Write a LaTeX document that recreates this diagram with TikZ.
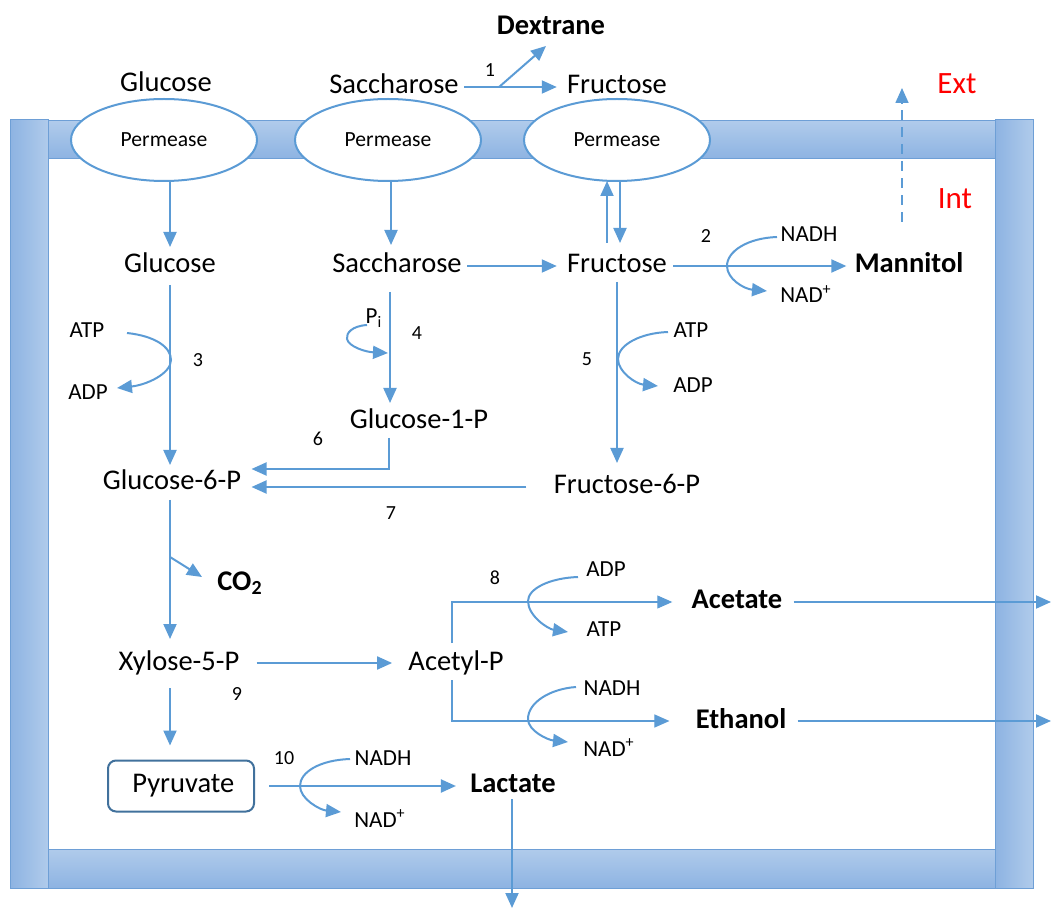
\documentclass[tikz,border=0pt]{standalone}
\usepackage{fontspec}
\setmainfont{Carlito}
\usetikzlibrary{arrows.meta,shapes.geometric,calc}
\definecolor{arr}{HTML}{5B9BD5}
\definecolor{barL}{HTML}{B0CBEB}
\definecolor{barD}{HTML}{8DB3E2}
\definecolor{barE}{HTML}{6E9FD6}
\definecolor{pyrE}{HTML}{41719C}
\begin{document}
\begin{tikzpicture}[x=0.5pt,y=-0.5pt,
 tip/.style={-{Triangle[length=7.5pt,width=6.5pt]}},
 flow/.style={draw=arr, line width=1pt, tip},
 thinflow/.style={draw=arr, line width=0.55pt, tip},
 met/.style={font=\fontsize{14.25pt}{16pt}\selectfont, inner sep=0pt, text height=10pt, text depth=3pt},
 prod/.style={font=\bfseries\fontsize{14.25pt}{16pt}\selectfont, inner sep=0pt, text height=10pt, text depth=3pt},
 small/.style={font=\fontsize{11.5pt}{13pt}\selectfont, inner sep=0pt, text height=8pt, text depth=2pt},
 num/.style={font=\fontsize{10pt}{12pt}\selectfont, inner sep=0pt},
 side/.style={font=\fontsize{15.5pt}{17pt}\selectfont, text=red, inner sep=0pt},
 perm/.style={ellipse, draw=arr, line width=1pt, fill=white, minimum width=93pt, minimum height=41pt, inner sep=0pt, font=\fontsize{10.8pt}{12pt}\selectfont},
 vbar/.style={left color=barD, right color=barL, draw=barE, line width=0.5pt},
 hbar/.style={top color=barL, bottom color=barD, draw=barE, line width=0.5pt},
 ]
\useasboundingbox (0,0) rectangle (1051,909);

% membrane
\shade[hbar] (48,121) rectangle (995,159);
\shade[hbar] (48,849) rectangle (995,888);
\shade[vbar] (10,120) rectangle (48,888);
\shade[vbar] (995,120) rectangle (1033,888);

% permeases
\node[perm] (p1) at (164,140) {Permease};
\node[perm] (p2) at (388,140) {Permease};
\node[perm] (p3) at (617,140) {Permease};

% outside
\node[prod] (dex) at (551,28) {Dextrane};
\node[met] (glcE) at (166,85) {Glucose};
\node[met] (sacE) at (394,87) {Saccharose};
\node[met] (fruE) at (617,87) {Fructose};
\node[side] (ext) at (957,84) {Ext};
\node[side] (int) at (955,199) {Int};

% inside metabolites
\node[met] (glc) at (170,266) {Glucose};
\node[met] (sac) at (397,266) {Saccharose};
\node[met] (fru) at (617,266) {Fructose};
\node[prod] (man) at (909,266) {Mannitol};
\node[met] (g1p) at (419,422) {Glucose-1-P};
\node[met] (g6p) at (172,483) {Glucose-6-P};
\node[met] (f6p) at (627,487) {Fructose-6-P};
\node[prod] (co2) at (240,583) {CO\textsubscript{2}};
\node[met] (xyl) at (179,663) {Xylose-5-P};
\node[met] (acp) at (456,663) {Acetyl-P};
\node[draw=pyrE, line width=1pt, rounded corners=4pt, minimum width=73pt, minimum height=25.5pt, inner sep=0pt,
      font=\fontsize{14.25pt}{16pt}\selectfont] (pyr) at (181,786) {\,Pyruvate};
\node[prod] (lac) at (513,785) {Lactate};
\node[prod] (ace) at (737,602) {Acetate};
\node[prod] (eth) at (741,721) {Ethanol};

% cofactors
\node[small] (atp3) at (87,332) {ATP};
\node[small] (adp3) at (88,394) {ADP};
\node[small] (pi) at (374,318) {P\textsubscript{i}};
\node[small] (nadh2) at (809,236) {NADH};
\node[small] (nad2) at (806,297) {NAD\textsuperscript{+}};
\node[small] (atp5) at (691,332) {ATP};
\node[small] (adp5) at (693,387) {ADP};
\node[small] (adp8) at (606,570) {ADP};
\node[small] (atp8) at (604,631) {ATP};
\node[small] (nadhE) at (612,689) {NADH};
\node[small] (nadE) at (609,750) {NAD\textsuperscript{+}};
\node[small] (nadh10) at (383,759) {NADH};
\node[small] (nad10) at (380,821) {NAD\textsuperscript{+}};

% reaction numbers
\node[num] (n1) at (490,70) {1};
\node[num] (n2) at (706,236) {2};
\node[num] (n3) at (198,360) {3};
\node[num] (n4) at (417,333) {4};
\node[num] (n5) at (587,359) {5};
\node[num] (n6) at (318,439) {6};
\node[num] (n7) at (391,513) {7};
\node[num] (n8) at (495,578) {8};
\node[num] (n9) at (237,694) {9};
\node[num] (n10) at (284,758) {10};

\coordinate (redge) at (1051,0);

% reaction 1 (outside)
\draw[flow] ($(sacE.east)+(5,0)$) -- ($(fruE.west)+(-10,0)$);
\draw[flow] ($(sacE.east)+(40,0)$) -- ($(dex.center)+(-5,18)$);

% transport
\draw[flow] (glc |- p1.south) -- ($(glc)+(0,-19)$);
\draw[flow] ($(sac |- p2.south)+(-6,0)$) -- ($(sac)+(-6,-21)$);
\draw[flow] ($(fru)+(-10,-23)$) -- ($(fru |- p3.south)+(-10,-1)$);
\draw[flow] ($(fru |- p3.south)+(3,0)$) -- ($(fru)+(3,-23)$);

% mannitol export (dashed)
\draw[draw=arr, line width=0.8pt, dash pattern=on 5pt off 3.5pt, tip] ($(man)+(-7,-44)$) -- ($(man)+(-7,-178)$);

% saccharose -> fructose, fructose -> mannitol
\draw[flow] ($(sac.east)+(5,0)$) -- ($(fru.west)+(-10,0)$);
\draw[flow] ($(fru.east)+(6,0)$) -- ($(man.west)+(-8,0)$);
\draw[flow] (777,237) .. controls (748,238) and (727,251) .. (727,266) .. controls (727,279) and (744,289) .. (767,291);

% glucose -> G6P
\draw[flow] ($(glc)+(0,19)$) -- ($(glc |- g6p)+(0,-18)$);
\draw[flow] (127,333) .. controls (155,336) and (171,347) .. (171,360) .. controls (171,374) and (146,385) .. (117,388);

% saccharose -> G1P
\draw[flow] ($(sac)+(-7,26)$) -- ($(g1p)+(-29,-19)$);
\draw[flow] (367,325) .. controls (352,326) and (346,333) .. (347,339) .. controls (349,347) and (366,352) .. (388,353);

% G1P -> G6P (6), F6P -> G6P (7)
\draw[flow] ($(g1p)+(-30,16)$) |- ($(g6p.east)+(10,-14)$);
\draw[flow] ($(f6p.west)+(-27,0)$) -- ($(g6p.east |- f6p)+(10,0)$);

% fructose -> F6P (5)
\draw[flow] ($(fru)+(0,16)$) -- ($(fru |- f6p)+(0,-24)$);
\draw[flow] (668,332) .. controls (640,333) and (618,345) .. (618,359) .. controls (618,372) and (636,384) .. (658,386);

% G6P -> Xylose-5-P, CO2
\draw[flow] ($(g6p)+(-2,17)$) -- ($(g6p |- xyl)+(-2,-24)$);
\draw[flow] ($(g6p)+(-2,74)$) -- ($(co2.west)+(-15,-6)$);

% Xylose-5-P -> Acetyl-P, Pyruvate
\draw[flow] ($(xyl.east)+(17,0)$) -- ($(acp.west)+(-16,0)$);
\draw[flow] ($(xyl)+(-9,25)$) -- ($(xyl |- pyr.north)+(-9,-14)$);

% Acetyl-P -> Acetate / Ethanol (8)
\draw[thinflow] ($(acp)+(-4,-20)$) |- ($(ace.west)+(-19,0)$);
\draw[thinflow] ($(acp)+(-4,17)$) |- ($(eth.west)+(-26,0)$);
\draw[flow] (578,577) .. controls (549,578) and (528,589) .. (528,601) .. controls (528,616) and (548,629) .. (568,632);
\draw[flow] (576,687) .. controls (549,689) and (528,703) .. (528,719) .. controls (528,731) and (548,740) .. (568,742);

% export of acetate and ethanol
\draw[flow] ($(ace.east)+(11,0)$) -- (ace -| redge);
\draw[flow] ($(eth.east)+(11,0)$) -- (eth -| redge);

% Pyruvate -> Lactate (10)
\draw[flow] ($(pyr.east)+(14,0)$) -- ($(lac.west |- pyr.east)+(-14,0)$);
\draw[flow] (350,759) .. controls (320,760) and (300,772) .. (300,786) .. controls (300,799) and (320,810) .. (341,812);
\draw[flow] ($(lac)+(-1,14)$) -- ($(lac)+(-1,123)$);
\end{tikzpicture}
\end{document}
